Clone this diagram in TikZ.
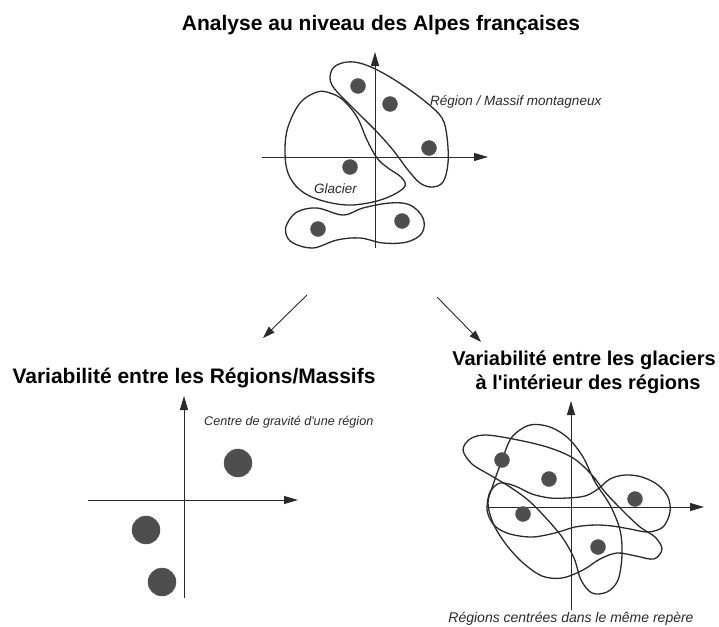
\documentclass[tikz,border=0pt]{standalone}
\usepackage{fontspec}
\setmainfont{Liberation Sans}
\usetikzlibrary{arrows.meta}
\definecolor{linec}{HTML}{2A2A2A}
\definecolor{dotc}{HTML}{4E4E4E}
\begin{document}
\begin{tikzpicture}[x=1pt,y=-1pt,
  axisline/.style={draw=linec, line width=1pt, -{Triangle[length=14pt,width=8pt]}},
  flowarrow/.style={draw=linec, line width=0.9pt, -{Triangle[length=12pt,width=8pt]}},
  blob/.style={draw=linec, line width=1.3pt},
  smalldot/.style={circle, fill=dotc, draw=linec!80, line width=0.4pt, inner sep=0pt, minimum size=15pt},
  bigdot/.style={circle, fill=dotc, draw=linec!80, line width=0.4pt, inner sep=0pt, minimum size=28pt},
  titletext/.style={font=\fontsize{21}{24}\selectfont\bfseries, inner sep=0pt, anchor=base},
  labeltext/.style={font=\fontsize{13.5}{16}\selectfont\itshape, text=linec, inner sep=0pt, anchor=base west}]
\useasboundingbox (0,0) rectangle (719,626);

% ---------- titles ----------
\node[titletext] (title) at (381,31) {Analyse au niveau des Alpes françaises};
\node[titletext] (lefttitle) at (194,383) {Variabilité entre les Régions/Massifs};
\node[titletext, font=\fontsize{20}{24}\selectfont\bfseries] (righttitle1) at (584,365) {Variabilité entre les glaciers};
\node[titletext, font=\fontsize{20}{24}\selectfont\bfseries] (righttitle2) at (588,389) {à l\textquotesingle intérieur des régions};

% ---------- top panel ----------
\coordinate (tyb) at (375,248);
\coordinate (tyt) at (375,52);
\coordinate (txl) at (262,157);
\coordinate (txr) at (488,157);
\draw[axisline] (tyb) -- (tyt);
\draw[axisline] (txl) -- (txr);

\draw[blob] plot[smooth cycle, tension=0.6] coordinates {
 (330,77) (334,67) (347,62) (363,64) (383,73) (407,88) (427,103) (442,118)
 (447,137) (448,163) (443,182) (432,187) (420,183) (408,170) (393,150)
 (377,132) (357,112) (340,95) (332,85)};
\draw[blob] plot[smooth cycle, tension=0.6] coordinates {
 (317,92) (300,103) (288,127) (285,150) (288,173) (300,190) (320,200)
 (347,205) (373,202) (393,195) (405,186) (401,177) (388,168) (377,158)
 (367,140) (357,117) (343,100) (330,93)};
\draw[blob] plot[smooth cycle, tension=0.6] coordinates {
 (287,224) (297,212) (317,208) (343,215) (363,208) (390,203) (410,205)
 (423,218) (422,233) (407,242) (383,243) (360,238) (337,240) (313,248)
 (293,243) (286,234)};

\node[smalldot] (d1) at (358,86) {};
\node[smalldot] (d2) at (390,104) {};
\node[smalldot] (d3) at (429,148) {};
\node[smalldot] (d4) at (350,167) {};
\node[smalldot] (d5) at (318,229) {};
\node[smalldot] (d6) at (402,221) {};

\node[labeltext] (regionlabel) at (430,105) {Région / Massif montagneux};
\node[labeltext] (glacierlabel) at (314,193) {Glacier};

% ---------- arrows ----------
\coordinate (la1) at (307,295);
\coordinate (la2) at (263,338);
\coordinate (ra1) at (437,297);
\coordinate (ra2) at (481,342);
\draw[flowarrow] (la1) -- (la2);
\draw[flowarrow] (ra1) -- (ra2);

% ---------- bottom-left panel ----------
\coordinate (lyb) at (184,598);
\coordinate (lyt) at (184,396);
\coordinate (lxl) at (88,500);
\coordinate (lxr) at (298,500);
\draw[axisline] (lyb) -- (lyt);
\draw[axisline] (lxl) -- (lxr);
\node[bigdot] (g1) at (238,463) {};
\node[bigdot] (g2) at (146,530) {};
\node[bigdot] (g3) at (162,582) {};
\node[labeltext, font=\fontsize{12.6}{15}\selectfont\itshape] (gravlabel) at (204,425) {Centre de gravité d\textquotesingle une région};

% ---------- bottom-right panel ----------
\coordinate (ryb) at (571,610);
\coordinate (ryt) at (571,401);
\coordinate (rxl) at (487,507);
\coordinate (rxr) at (704,507);
\draw[axisline] (ryb) -- (ryt);
\draw[axisline] (rxl) -- (rxr);

\draw[blob] plot[smooth cycle, tension=0.55] coordinates {
 (463,450) (470,439) (485,435) (513,439) (547,447) (573,458) (592,475)
 (605,492) (622,510) (640,527) (655,537) (662,549) (654,559) (636,556)
 (617,553) (600,559) (583,570) (562,578) (542,576) (522,562) (505,543)
 (493,523) (488,503) (493,485) (502,460) (512,437) (530,425) (550,427)
 (568,438) (583,457) (595,482) (610,505) (620,530) (622,555) (618,580)
 (607,592) (592,593) (581,580) (574,558) (562,537) (545,517) (528,500)
 (510,487) (490,475) (472,464)};
\draw[blob] plot[smooth cycle, tension=0.55] coordinates {
 (487,507) (490,492) (500,483) (515,486) (532,494) (550,498) (567,498)
 (585,496) (598,489) (610,479) (625,475) (642,477) (658,485) (668,497)
 (670,512) (663,527) (648,532) (630,529) (612,526) (595,525) (575,527)
 (555,533) (532,537) (510,534) (496,527) (489,517)};

\node[smalldot] (r1) at (502,460) {};
\node[smalldot] (r2) at (549,479) {};
\node[smalldot] (r3) at (635,499) {};
\node[smalldot] (r4) at (523,514) {};
\node[smalldot] (r5) at (598,547) {};

\node[labeltext, font=\fontsize{14}{16}\selectfont\itshape, anchor=base] (centredlabel) at (571,622) {Régions centrées dans le même repère};
\end{tikzpicture}
\end{document}
